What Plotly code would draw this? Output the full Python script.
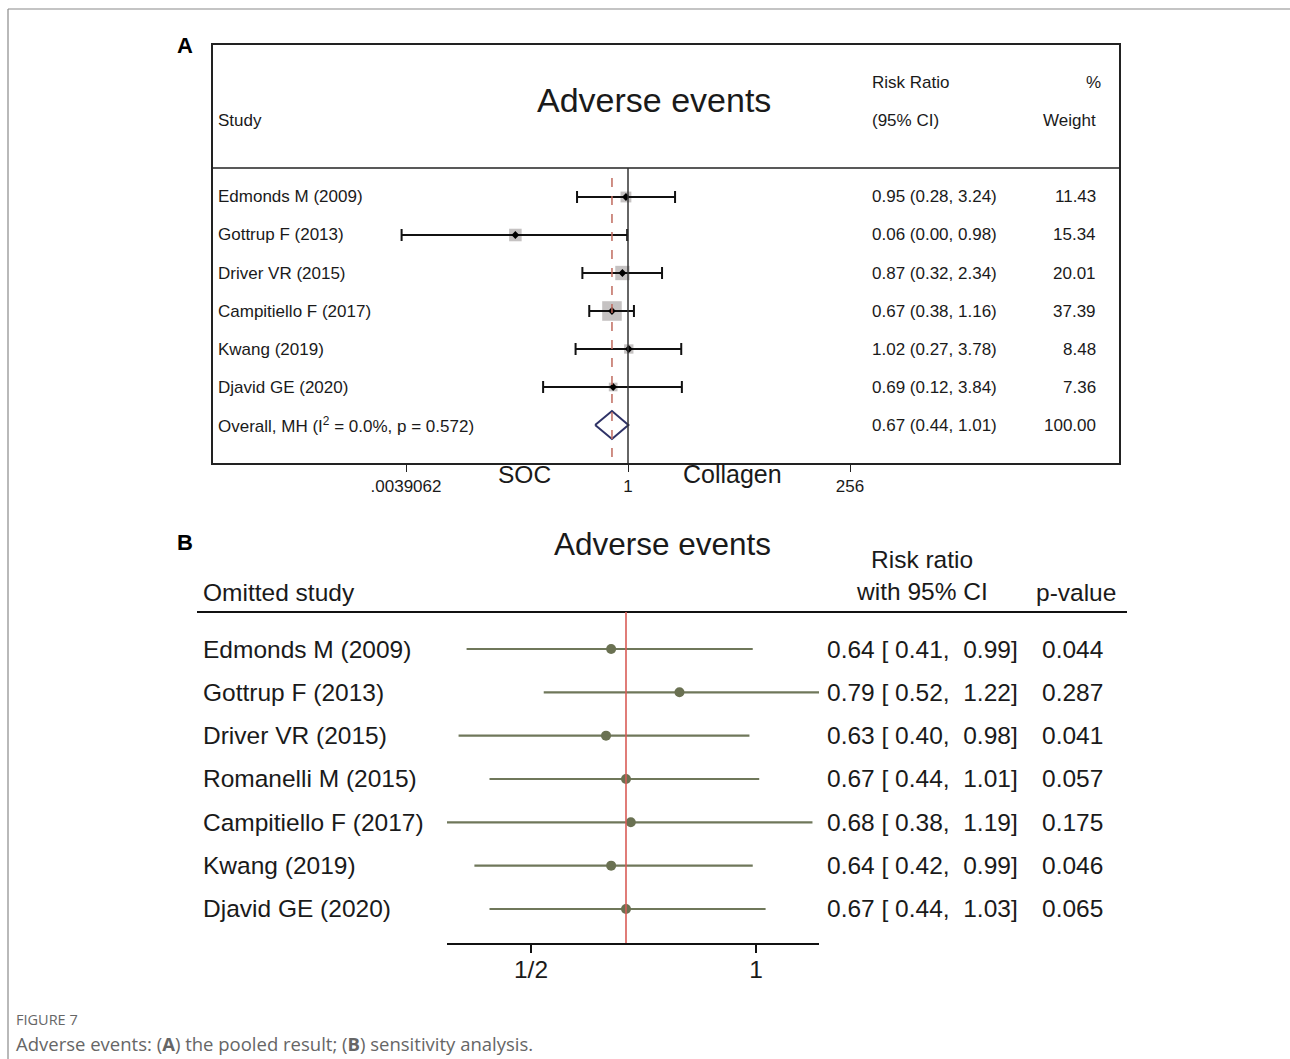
import math
import plotly.graph_objects as go

W, H = 1290, 1059
FONT = "Liberation Sans"


def px(x):
    return x / W


def py(y):
    return 1 - y / H


# ---------------- Panel A data (pooled result) ----------------
a_studies = ["Edmonds M (2009)", "Gottrup F (2013)", "Driver VR (2015)",
             "Campitiello F (2017)", "Kwang (2019)", "Djavid GE (2020)"]
a_rr = [0.95, 0.06, 0.87, 0.67, 1.02, 0.69]
a_lo = [0.28, 0.0035, 0.32, 0.38, 0.27, 0.12]
a_hi = [3.24, 0.98, 2.34, 1.16, 3.78, 3.84]
a_weight = [11.43, 15.34, 20.01, 37.39, 8.48, 7.36]
a_overall_label = "Overall, MH (I<sup>2</sup> = 0.0%, p = 0.572)"
a_overall_rr = 0.67
a_overall_lo = 0.44
a_overall_hi = 1.01
a_overall_weight = 100.00
a_tickvals = [0.0039062, 1, 256]
a_ticktext = [".0039062", "1", "256"]

# ---------------- Panel B data (sensitivity analysis) ----------------
b_studies = ["Edmonds M (2009)", "Gottrup F (2013)", "Driver VR (2015)",
             "Romanelli M (2015)", "Campitiello F (2017)", "Kwang (2019)",
             "Djavid GE (2020)"]
b_rr = [0.64, 0.79, 0.63, 0.67, 0.68, 0.64, 0.67]
b_lo = [0.41, 0.52, 0.40, 0.44, 0.38, 0.42, 0.44]
b_hi = [0.99, 1.22, 0.98, 1.01, 1.19, 0.99, 1.03]
b_p = ["0.044", "0.287", "0.041", "0.057", "0.175", "0.046", "0.065"]
b_overall = 0.67
b_tickvals = [0.5, 1]
b_ticktext = ["1/2", "1"]

fig = go.Figure()

# ---------- Panel A geometry ----------
A_L, A_R, A_T, A_B = 213, 1119, 45, 463
A_ONE, A_PPL2 = 628, 27.75          # pixel of 1, pixels per log2 unit
A_ROW0, A_DY = 197, 38
a_rng = [math.log10(2 ** ((A_L - A_ONE) / A_PPL2)), math.log10(2 ** ((A_R - A_ONE) / A_PPL2))]
a_yr = [(A_B - A_ROW0) / A_DY, (A_T - A_ROW0) / A_DY]
a_rows = list(range(len(a_studies)))
a_orow = len(a_studies)
a_head = (168 - A_ROW0) / A_DY

# ---------- Panel B geometry ----------
B_L, B_R, B_T, B_B = 447, 819, 612, 943
B_ONE, B_PPL2 = 756, 225
B_ROW0, B_DY = 649, 43.33
b_rng = [math.log10(2 ** ((B_L - B_ONE) / B_PPL2)), math.log10(2 ** ((B_R - B_ONE) / B_PPL2))]
b_yr = [(B_B - B_ROW0) / B_DY, (B_T - B_ROW0) / B_DY]
b_rows = list(range(len(b_studies)))

# Panel A: weight squares
fig.add_trace(go.Scatter(
    x=a_rr, y=a_rows, mode="markers", xaxis="x", yaxis="y",
    marker=dict(symbol="square", size=[3.2 * math.sqrt(w) for w in a_weight],
                color="#ada8a8", line=dict(width=0)),
    hoverinfo="skip", showlegend=False))
# Panel A: CI bars and point estimate
fig.add_trace(go.Scatter(
    x=a_rr, y=a_rows, mode="markers", xaxis="x", yaxis="y",
    marker=dict(symbol="diamond", size=6, color="black"),
    error_x=dict(type="data", symmetric=False,
                 array=[h - r for h, r in zip(a_hi, a_rr)],
                 arrayminus=[r - l for r, l in zip(a_rr, a_lo)],
                 color="#111", thickness=2, width=6),
    showlegend=False))
# Panel A: overall diamond
dh = 0.37
fig.add_trace(go.Scatter(
    x=[a_overall_lo, a_overall_rr, a_overall_hi, a_overall_rr, a_overall_lo],
    y=[a_orow, a_orow - dh, a_orow, a_orow + dh, a_orow],
    mode="lines", xaxis="x", yaxis="y",
    line=dict(color="#2f3367", width=2), hoverinfo="skip", showlegend=False))

# Panel B: CI lines
bx, by = [], []
for r, lo, hi in zip(b_rows, b_lo, b_hi):
    bx += [lo, hi, None]
    by += [r, r, None]
fig.add_trace(go.Scatter(x=bx, y=by, mode="lines", xaxis="x2", yaxis="y2",
                         line=dict(color="#6f775a", width=2.2),
                         hoverinfo="skip", showlegend=False))
fig.add_trace(go.Scatter(x=b_rr, y=b_rows, mode="markers", xaxis="x2", yaxis="y2",
                         marker=dict(symbol="circle", size=10, color="#6a7152"),
                         showlegend=False))

shapes = [
    # frame lines
    dict(type="line", xref="paper", yref="paper", x0=px(8), x1=1, y0=py(9), y1=py(9),
         line=dict(color="#8a8a8a", width=1.2)),
    dict(type="line", xref="paper", yref="paper", x0=px(8), x1=px(8), y0=py(9), y1=0,
         line=dict(color="#8a8a8a", width=1.2)),
    # panel A header rule
    dict(type="line", xref="paper", yref="y", x0=px(A_L), x1=px(A_R), y0=a_head, y1=a_head,
         line=dict(color="#222", width=1.5)),
    # panel A no-effect line
    dict(type="line", xref="x", yref="y", x0=1, x1=1, y0=a_head, y1=a_yr[0],
         line=dict(color="#333", width=1.5)),
    # panel A overall dashed line
    dict(type="line", xref="x", yref="y", x0=a_overall_rr, x1=a_overall_rr,
         y0=-0.5, y1=a_yr[0], line=dict(color="#c06a5e", width=1.5, dash="dash")),
    # panel B header rule
    dict(type="line", xref="paper", yref="paper", x0=px(197), x1=px(1127), y0=py(612), y1=py(612),
         line=dict(color="#111", width=2)),
    # panel B overall line
    dict(type="line", xref="x2", yref="y2", x0=b_overall, x1=b_overall, y0=b_yr[1], y1=b_yr[0],
         line=dict(color="#d95c57", width=1.6)),
]

anns = []


def ann(text, x, y, size, xanchor="left", yref="paper", color="#1a1a1a", family=FONT, yanchor="middle"):
    anns.append(dict(text=text, x=x, y=y, xref="paper", yref=yref, showarrow=False,
                     xanchor=xanchor, yanchor=yanchor,
                     font=dict(size=size, color=color, family=family)))


FA = 17      # panel A text size
FB = 24.5    # panel B text size

# panel labels
ann("<b>A</b>", px(175), py(46), 22, color="#000")
ann("<b>B</b>", px(175), py(542), 22, color="#000")

# panel A headers
ann("Adverse events", px(654), py(100), 34, xanchor="center")
ann("Study", px(216), py(121), FA)
ann("Risk Ratio", px(870), py(83), FA)
ann("(95% CI)", px(870), py(121), FA)
ann("%", px(1103), py(83), FA, xanchor="right")
ann("Weight", px(1098), py(121), FA, xanchor="right")

# panel A rows
for i, s in enumerate(a_studies):
    ann(s, px(216), i, FA, yref="y")
    ann(f"{a_rr[i]:.2f} ({a_lo[i]:.2f}, {a_hi[i]:.2f})", px(870), i, FA, yref="y")
    ann(f"{a_weight[i]:.2f}", px(1098), i, FA, xanchor="right", yref="y")
ann(a_overall_label, px(216), a_orow, FA, yref="y")
ann(f"{a_overall_rr:.2f} ({a_overall_lo:.2f}, {a_overall_hi:.2f})", px(870), a_orow, FA, yref="y")
ann(f"{a_overall_weight:.2f}", px(1098), a_orow, FA, xanchor="right", yref="y")

# panel A axis side labels
ann("SOC", px(524), py(474), 24.5, xanchor="center")
ann("Collagen", px(732), py(474), 25, xanchor="center")

# panel B headers
ann("Adverse events", px(662), py(544), 31.5, xanchor="center")
ann("Omitted study", px(201), py(592), FB)
ann("Risk ratio", px(922), py(559), FB, xanchor="center")
ann("with 95% CI", px(922), py(591), FB, xanchor="center")
ann("p-value", px(1076), py(592), FB, xanchor="center")

# panel B rows
for i, s in enumerate(b_studies):
    ann(s, px(201), i, FB, yref="y2")
    ann(f"{b_rr[i]:.2f} [ {b_lo[i]:.2f},  {b_hi[i]:.2f}]", px(825), i, FB, yref="y2")
    ann(b_p[i], px(1040), i, FB, yref="y2")

# caption
ann("FIGURE 7", px(14), py(1019), 14.5, color="#666", family="Open Sans")
ann("Adverse events: (<b>A</b>) the pooled result; (<b>B</b>) sensitivity analysis.",
    px(14), py(1043), 18.5, color="#666", family="Open Sans")

fig.update_layout(
    width=W, height=H, margin=dict(l=0, r=0, t=0, b=0),
    paper_bgcolor="white", plot_bgcolor="rgba(0,0,0,0)",
    showlegend=False,
    xaxis=dict(domain=[px(A_L), px(A_R)], type="log", range=a_rng, anchor="y",
               showline=True, mirror=True, linecolor="#222", linewidth=1.5,
               ticks="outside", ticklen=7, tickwidth=1.2, tickcolor="#222",
               tickvals=a_tickvals, ticktext=a_ticktext,
               tickfont=dict(size=17, family=FONT, color="#1a1a1a"),
               showgrid=False, zeroline=False),
    yaxis=dict(domain=[py(A_B), py(A_T)], range=a_yr, anchor="x",
               showline=True, mirror=True, linecolor="#222", linewidth=1.5,
               showticklabels=False, ticks="", showgrid=False, zeroline=False),
    xaxis2=dict(domain=[px(B_L), px(B_R)], type="log", range=b_rng, anchor="y2",
                showline=True, linecolor="#111", linewidth=2,
                ticks="outside", ticklen=8, tickwidth=1.5, tickcolor="#111",
                tickvals=b_tickvals, ticktext=b_ticktext, ticklabelstandoff=-4,
                tickfont=dict(size=24.5, family=FONT, color="#1a1a1a"),
                showgrid=False, zeroline=False),
    yaxis2=dict(domain=[py(B_B), py(B_T)], range=b_yr, anchor="x2",
                visible=False, showgrid=False, zeroline=False),
    shapes=shapes, annotations=anns,
)

fig.write_html("out.html")
